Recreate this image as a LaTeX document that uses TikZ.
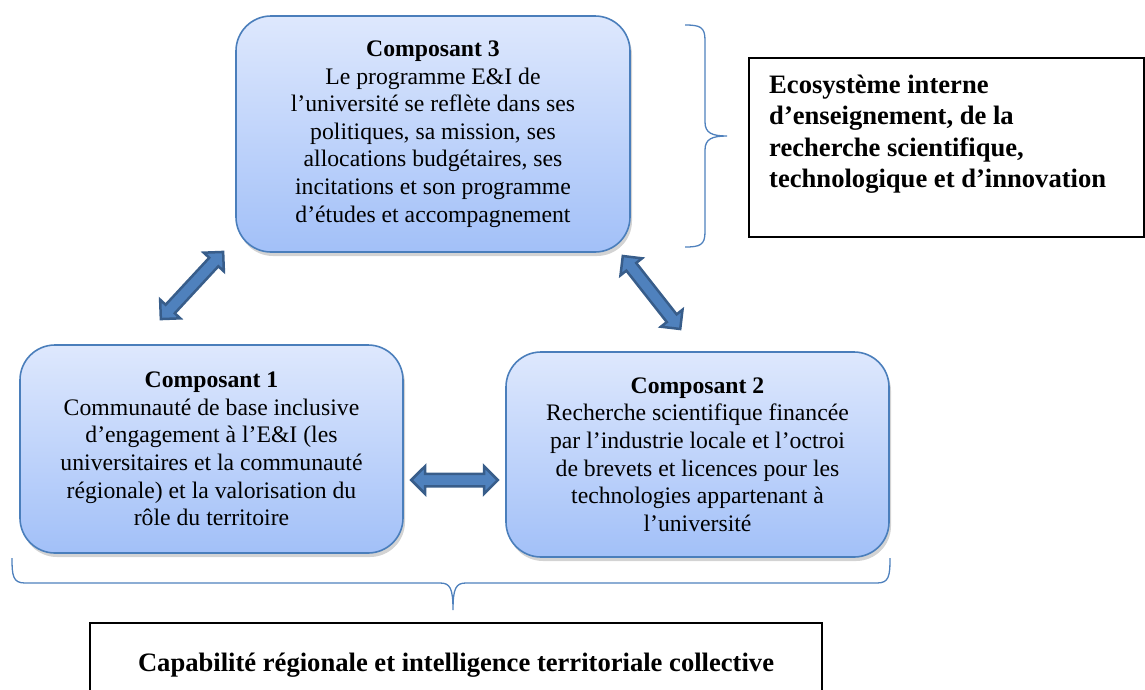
\documentclass[tikz,border=0pt]{standalone}
\usepackage{fontspec}
\setmainfont{Liberation Serif}
\usetikzlibrary{calc,shapes.arrows,shadows}

\definecolor{boxtop}{HTML}{DEE8FD}
\definecolor{boxbot}{HTML}{A2C0F8}
\definecolor{boxline}{HTML}{4A7EBB}
\definecolor{arrowfill}{HTML}{4F81BD}
\definecolor{arrowline}{HTML}{385D8A}
\definecolor{bracecol}{HTML}{4F81BD}

\tikzset{
  compbox/.style={rounded corners=35pt, draw=boxline, line width=1.6pt,
    top color=boxtop, bottom color=boxbot, align=center,
    drop shadow={shadow xshift=2pt, shadow yshift=-4pt, opacity=0.35},
    font=\fontsize{23.7}{27.6}\selectfont},
  dblarrow/.style={double arrow, draw=arrowline, fill=arrowfill, line width=2.5pt,
    inner sep=0pt, inner ysep=5pt, double arrow head extend=7.5pt},
  bracepath/.style={draw=bracecol, line width=1.3pt},
  framebox/.style={draw=black, line width=1.4pt},
  boldlabel/.style={font=\bfseries\fontsize{26.6}{31.5}\selectfont}
}

\begin{document}
\begin{tikzpicture}[x=1pt,y=-1pt]
\useasboundingbox (0,0) rectangle (1145,689);
\clip (0,0) rectangle (1145,689);

% three components
\node[compbox, minimum width=394pt, minimum height=236pt] (c3) at (433,134)
  {\textbf{Composant 3}\\Le programme E\&I de\\l’université se reflète dans ses\\politiques, sa mission, ses\\allocations budgétaires, ses\\incitations et son programme\\d’études et accompagnement};
\node[compbox, minimum width=383pt, minimum height=208pt] (c1) at (211.5,449)
  {\textbf{Composant 1}\\Communauté de base inclusive\\d’engagement à l’E\&I (les\\universitaires et la communauté\\régionale) et la valorisation du\\rôle du territoire};
\node[compbox, minimum width=383pt, minimum height=205pt] (c2) at (697.5,454.5)
  {\textbf{Composant 2}\\Recherche scientifique financée\\par l’industrie locale et l’octroi\\de brevets et licences pour les\\technologies appartenant à\\l’université};

% end points of the two-headed arrows
\coordinate (a13s) at (160,320);
\coordinate (a13e) at (224,251);
\coordinate (a12s) at (410,480);
\coordinate (a12e) at (499,480);
\coordinate (a32s) at (622,255);
\coordinate (a32e) at (681,330);

\path let \p1=($(a13e)-(a13s)$), \n1={veclen(\x1,\y1)-2.5}, \n2={atan2(\y1,\x1)} in
  node[dblarrow, minimum height=\n1, rotate=\n2] (ar13) at ($(a13s)!0.5!(a13e)$) {};
\path let \p1=($(a12e)-(a12s)$), \n1={veclen(\x1,\y1)-2.5}, \n2={atan2(\y1,\x1)} in
  node[dblarrow, minimum height=\n1, rotate=\n2] (ar12) at ($(a12s)!0.5!(a12e)$) {};
\path let \p1=($(a32e)-(a32s)$), \n1={veclen(\x1,\y1)-2.5}, \n2={atan2(\y1,\x1)} in
  node[dblarrow, minimum height=\n1, rotate=\n2] (ar32) at ($(a32s)!0.5!(a32e)$) {};

% right brace grouping component 3
\draw[bracepath] (685,25) .. controls (700,25) and (705,27) .. (705,40)
  -- (705,122) .. controls (705,133) and (712,136) .. (727,136)
  .. controls (712,136) and (705,139) .. (705,150)
  -- (705,232) .. controls (705,245) and (700,247) .. (685,247);

% lower brace grouping components 1 and 2
\draw[bracepath] (12,558) .. controls (12,576) and (13,583) .. (25,583)
  -- (440,583) .. controls (450,583) and (453,588) .. (453,610)
  .. controls (453,588) and (456,583) .. (466,583)
  -- (877,583) .. controls (889,583) and (890,576) .. (890,558);

% side and bottom captions
\draw[framebox] (749,58) rectangle (1144,237);
\node[boldlabel, anchor=west, align=left, inner sep=0pt] (eco) at (769,134)
  {Ecosystème interne\\d’enseignement, de la\\recherche scientifique,\\technologique et d’innovation};

\draw[framebox] (90,623) rectangle (822,720);
\node[boldlabel, inner sep=0pt] (cap) at (456,665)
  {Capabilité régionale et intelligence territoriale collective};
\end{tikzpicture}
\end{document}
